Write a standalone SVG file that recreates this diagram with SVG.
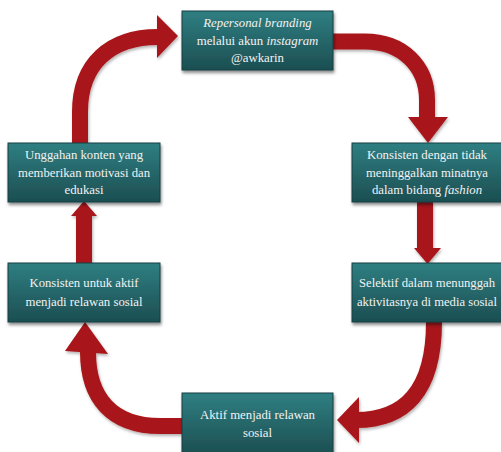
<svg xmlns="http://www.w3.org/2000/svg" width="501" height="452" viewBox="0 0 501 452">
<defs>
<linearGradient id="g" x1="0" y1="0" x2="0" y2="1">
<stop offset="0" stop-color="#2f7f82"/>
<stop offset="1" stop-color="#1c4e51"/>
</linearGradient>
<filter id="sh" x="-10%" y="-10%" width="125%" height="130%">
<feDropShadow dx="1" dy="2.5" stdDeviation="1.8" flood-color="#000" flood-opacity="0.45"/>
</filter>
<filter id="ash" x="-10%" y="-10%" width="125%" height="130%">
<feDropShadow dx="1" dy="2" stdDeviation="1.5" flood-color="#000" flood-opacity="0.3"/>
</filter>
</defs>
<style>
.box{fill:url(#g);stroke:#163f42;stroke-width:1;filter:url(#sh)}
text{font-family:'Liberation Serif','Times New Roman',serif;font-size:12.8px;fill:#f2f2f2;text-anchor:middle}
.shaft{fill:none;stroke:#a8171a;stroke-width:16}
.head{fill:#a8171a}
.arr{filter:url(#ash)}
</style>
<rect width="501" height="452" fill="#fff"/>
<g id="connectors">
<g class="arr">
<path class="shaft" d="M80 143 L80 112 C80 64 110 37 158 37"/>
<polygon class="head" points="157,15 178,36 157,58"/>
</g>
<g class="arr">
<path class="shaft" d="M333 41.5 L365 41.5 C402 41.5 427 66 427 100 L427 118"/>
<polygon class="head" points="408,117 448,117 428,143"/>
</g>
<g class="arr">
<path class="shaft" d="M425 202 L425 249"/>
<polygon class="head" points="414,248 441,248 427.5,264"/>
</g>
<g class="arr">
<path class="shaft" d="M434 322 C434 392 404 420 356 420"/>
<polygon class="head" points="359,397 359,443 337,420"/>
</g>
<g class="arr">
<path class="shaft" d="M182 426 L160 426 C112 426 88 398 88 352"/>
<polygon class="head" points="65,351 108,354 85,322"/>
</g>
<g class="arr">
<path class="shaft" d="M84 263 L84 215"/>
<polygon class="head" points="71,216 97,216 84,201"/>
</g>
</g>
<g id="n1">
<rect class="box" x="182" y="11" width="151" height="59"/>
<text x="257.5" y="27" font-style="italic">Repersonal branding</text>
<text x="257.5" y="45">melalui akun <tspan font-style="italic">instagram</tspan></text>
<text x="257.5" y="62">@awkarin</text>
</g>
<g id="n2">
<rect class="box" x="352" y="143" width="150" height="59"/>
<text x="427" y="159" textLength="120" lengthAdjust="spacingAndGlyphs">Konsisten dengan tidak</text>
<text x="427" y="177" textLength="122" lengthAdjust="spacingAndGlyphs">meninggalkan minatnya</text>
<text x="427" y="194">dalam bidang <tspan font-style="italic">fashion</tspan></text>
</g>
<g id="n3">
<rect class="box" x="352" y="263" width="150" height="59"/>
<text x="427" y="287" textLength="136" lengthAdjust="spacingAndGlyphs">Selektif dalam menunggah</text>
<text x="427" y="306" textLength="140" lengthAdjust="spacingAndGlyphs">aktivitasnya di media sosial</text>
</g>
<g id="n4">
<rect class="box" x="182" y="393" width="151" height="62"/>
<text x="257.5" y="419" textLength="115" lengthAdjust="spacingAndGlyphs">Aktif menjadi relawan</text>
<text x="257.5" y="437">sosial</text>
</g>
<g id="n5">
<rect class="box" x="8" y="263" width="152" height="59"/>
<text x="84" y="287" textLength="109" lengthAdjust="spacingAndGlyphs">Konsisten untuk aktif</text>
<text x="84" y="306" textLength="117" lengthAdjust="spacingAndGlyphs">menjadi relawan sosial</text>
</g>
<g id="n6">
<rect class="box" x="8" y="143" width="152" height="59"/>
<text x="84" y="159" textLength="118" lengthAdjust="spacingAndGlyphs">Unggahan konten yang</text>
<text x="84" y="177" textLength="132" lengthAdjust="spacingAndGlyphs">memberikan motivasi dan</text>
<text x="84" y="194">edukasi</text>
</g>
</svg>
